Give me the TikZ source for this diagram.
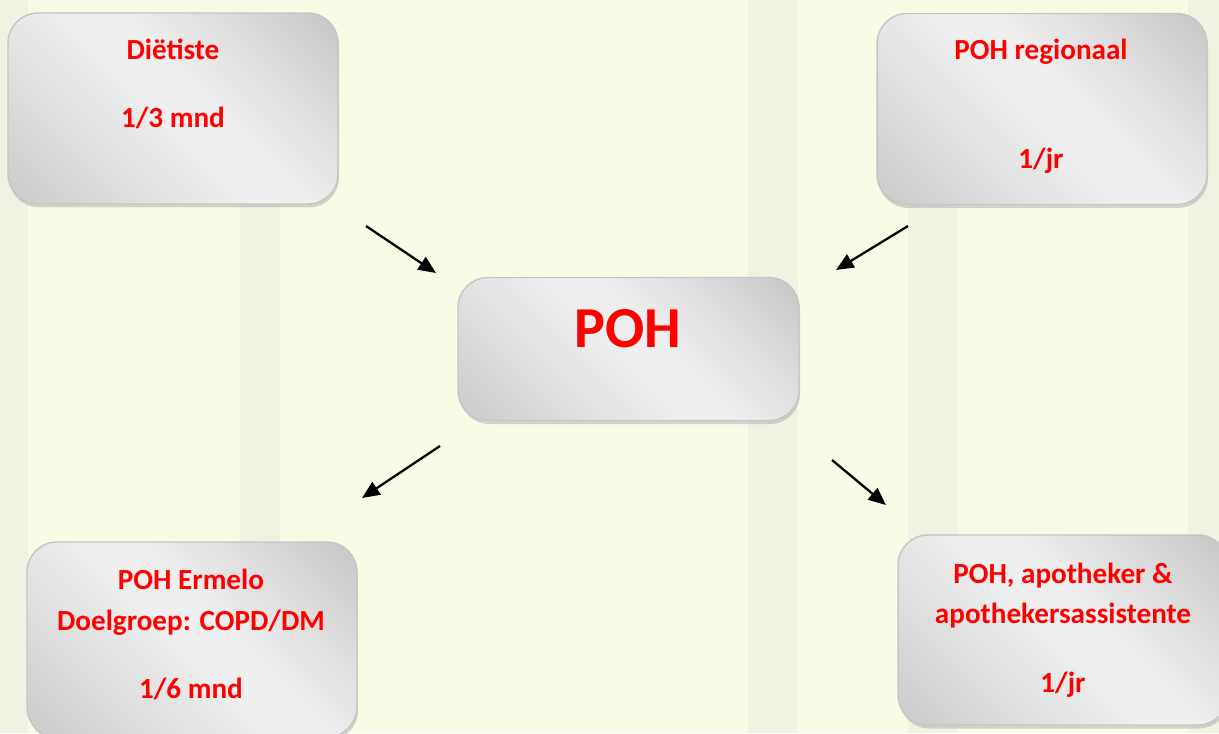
\documentclass[tikz,border=0pt]{standalone}
\usepackage{fontspec}
\setmainfont{Carlito}
\usepackage{tikz}
\usetikzlibrary{arrows.meta,positioning,shadows,backgrounds}
\definecolor{mist}{RGB}{250,251,230}
\definecolor{trunk}{RGB}{160,178,196}
\definecolor{boxred}{RGB}{255,0,0}
\definecolor{boxdark}{RGB}{200,200,200}
\definecolor{boxlight}{RGB}{239,239,239}
\pgfdeclareverticalshading{boxshade}{100bp}{color(0bp)=(boxdark!85!boxlight); color(18bp)=(boxdark!85!boxlight); color(48bp)=(boxlight); color(56bp)=(boxlight); color(84bp)=(boxdark); color(100bp)=(boxdark)}

\tikzset{
  box/.style={draw=gray!45, line width=0.8pt, rounded corners=0.6cm,
    shading=boxshade, shading angle=-45,
    drop shadow={shadow xshift=0.6pt, shadow yshift=-2pt, fill=gray!65}},
  lbl/.style={anchor=base, text=boxred, font=\fontsize{16.6}{19}\selectfont\bfseries},
  big/.style={anchor=base, text=boxred, font=\fontsize{33}{38}\selectfont\bfseries},
  link/.style={-{Triangle[length=10pt,width=8.5pt]}, line width=1.3pt, black},
}

\begin{document}
\begin{tikzpicture}[x=0.02cm, y=-0.02cm]
    \useasboundingbox (0,0) rectangle (1219,733);
    % background
    \fill[mist] (0,0) rectangle (1219,733);
    \begin{scope}[fill=trunk, opacity=0.1]
      \fill (0,0) rectangle (28,733);
      \fill (240,200) rectangle (280,733);
      \fill (748,0) rectangle (798,733);
      \fill (908,200) rectangle (958,733);
      \fill (1188,0) rectangle (1219,733);
    \end{scope}
    % boxes
    \node[box, minimum width=6.6cm, minimum height=3.82cm] (dietiste) at (173,108.5) {};
    \node[box, minimum width=6.6cm, minimum height=3.82cm] (regio) at (1042,109) {};
    \node[box, minimum width=6.82cm, minimum height=2.86cm] (poh) at (628.5,349) {};
    \node[box, minimum width=6.6cm, minimum height=3.9cm] (ermelo) at (192,639.5) {};
    \node[box, minimum width=6.6cm, minimum height=3.8cm] (apo) at (1063,630) {};
    % texts
    \node[lbl] (dietisteA) at (173,60) {Diëtiste};
    \node[lbl] (dietisteB) at (173,128) {1/3 mnd};
    \node[lbl] (regioA) at (1041,60) {POH regionaal};
    \node[lbl] (regioB) at (1041,169) {1/jr};
    \node[big] (pohA) at (628,347) {POH};
    \node[lbl] (ermeloA) at (191,589) {POH Ermelo};
    \node[lbl] (ermeloB) at (191,630) {Doelgroep: COPD/DM};
    \node[lbl] (ermeloC) at (191,698) {1/6 mnd};
    \node[lbl] (apoA) at (1063,583) {POH, apotheker \&};
    \node[lbl] (apoB) at (1063,623) {apothekersassistente};
    \node[lbl] (apoC) at (1063,692) {1/jr};
    % arrows
    \coordinate (dietisteOut) at (366,226);
    \coordinate (dietisteIn) at (436,273);
    \coordinate (regioOut) at (908,226);
    \coordinate (regioIn) at (836,270);
    \coordinate (ermeloOut) at (440,446);
    \coordinate (ermeloIn) at (362,498);
    \coordinate (apoOut) at (832,460);
    \coordinate (apoIn) at (886,505);
    \draw[link] (dietisteOut) -- (dietisteIn);
    \draw[link] (regioOut) -- (regioIn);
    \draw[link] (ermeloOut) -- (ermeloIn);
    \draw[link] (apoOut) -- (apoIn);
\end{tikzpicture}
\end{document}
